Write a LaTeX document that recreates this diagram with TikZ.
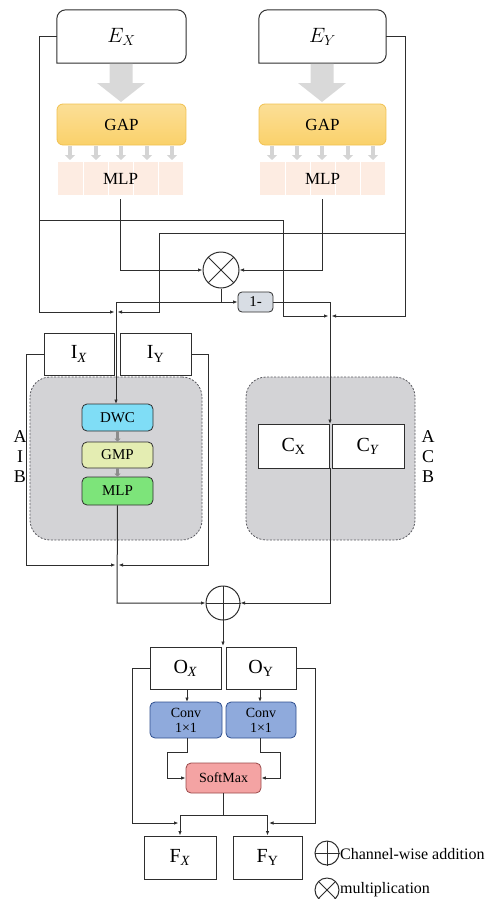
\documentclass[tikz,border=0pt]{standalone}
\usepackage{fontspec}
\setmainfont{Liberation Serif}
\usetikzlibrary{arrows.meta,calc}
\definecolor{ln}{HTML}{2E2E2E}
\definecolor{gapfill}{HTML}{FAD16A}
\definecolor{gapdraw}{HTML}{F0C050}
\definecolor{peach}{HTML}{FDECE2}
\definecolor{regfill}{HTML}{D3D3D6}
\definecolor{regdraw}{HTML}{5A5A60}
\definecolor{dwcfill}{HTML}{7FDDF6}
\definecolor{gmpfill}{HTML}{E4EDB2}
\definecolor{mlpfill}{HTML}{7DE47A}
\definecolor{convfill}{HTML}{8FAADC}
\definecolor{convdraw}{HTML}{2F4F8F}
\definecolor{smfill}{HTML}{F4A3A3}
\definecolor{smdraw}{HTML}{9A4A4A}
\definecolor{onefill}{HTML}{D8DDE4}
\begin{document}
\begin{tikzpicture}[x=1pt,y=-1pt,
  conn/.style={draw=ln,line width=1pt},
  arr/.style={conn,-{Latex[length=4.5pt,width=3.5pt]}},
  plainbox/.style={draw=ln,line width=1pt,fill=white,inner sep=0pt,font=\fontsize{20}{22}\selectfont},
  gapbox/.style={draw=gapdraw,line width=0.8pt,top color=gapfill!70!white,bottom color=gapfill,rounded corners=6pt,inner sep=0pt,minimum width=129pt,minimum height=41pt,font=\fontsize{17}{19}\selectfont},
  peachbox/.style={fill=peach,inner sep=0pt,minimum width=125pt,minimum height=33pt,font=\fontsize{17}{19}\selectfont},
  region/.style={draw=regdraw,dash pattern=on 2pt off 1.5pt,line width=0.8pt,fill=regfill,rounded corners=20pt,inner sep=0pt},
  smallbox/.style={draw=ln,line width=0.8pt,rounded corners=5pt,inner sep=0pt,minimum width=71pt,font=\fontsize{15}{17}\selectfont},
  opcirc/.style={circle,draw=ln,line width=1pt,fill=white,inner sep=0pt},
  bigarrow/.style={fill=black!15,draw=none},
  thinarrow/.style={draw=black!17,line width=4pt,-{Triangle[length=5pt,width=10pt]}},
  midarrow/.style={draw=black!45,line width=2.5pt,-{Triangle[length=3pt,width=6pt]}},
  sidelab/.style={inner sep=0pt,font=\fontsize{18}{20}\selectfont,align=center},
]
\useasboundingbox (0,0) rectangle (494,899);

% ---------- top encoders ----------
\node[inner sep=0pt,minimum width=129pt,minimum height=53pt,font=\fontsize{22}{24}\selectfont] (EX) at (121.5,36.5) {$E_X$};
\node[inner sep=0pt,minimum width=127pt,minimum height=53pt,font=\fontsize{22}{24}\selectfont] (EY) at (322.5,36.5) {$E_Y$};
\foreach \n in {EX,EY}{
  \draw[draw=ln,line width=1pt] (\n.south west) [rounded corners=9pt] -- (\n.north west) -- (\n.north east) -- (\n.south east) [sharp corners] -- cycle;
}

% big gray arrows
\foreach \c in {121,322}{
  \fill[bigarrow] (\c-11.5,64) -- (\c+11.5,64) -- (\c+11.5,83) -- (\c+24,83) -- (\c,102) -- (\c-24,83) -- (\c-11.5,83) -- cycle;
}

\node[gapbox] (GAPX) at (121.5,124.5) {GAP};
\node[gapbox,minimum width=127pt] (GAPY) at (322.5,124.5) {GAP};

\node[peachbox] (MLPX) at (120.5,178.5) {};
\node[peachbox] (MLPY) at (322.5,178.5) {};
\foreach \c in {120.5,322.5}{
  \foreach \d in {-37.5,-12.5,12.5,37.5}{
    \draw[white,line width=0.6pt] (\c+\d,162) -- (\c+\d,195);
  }
}
\node[inner sep=0pt,font=\fontsize{17}{19}\selectfont] at (MLPX) {MLP};
\node[inner sep=0pt,font=\fontsize{17}{19}\selectfont] at (MLPY) {MLP};

\foreach \xx in {70,96,121,147,172,272,297,322,348,373}{
  \draw[thinarrow] (\xx,146) -- (\xx,160);
}

% ---------- otimes and 1- ----------
\node[opcirc,minimum size=36pt] (MUL) at (221,270) {};
\draw[ln,line width=1pt] ($(MUL.center)+(-12.7,-12.7)$) -- ($(MUL.center)+(12.7,12.7)$);
\draw[ln,line width=1pt] ($(MUL.center)+(-12.7,12.7)$) -- ($(MUL.center)+(12.7,-12.7)$);

\node[draw=ln,line width=0.8pt,fill=onefill,rounded corners=4pt,minimum width=35pt,minimum height=20pt,inner sep=0pt,font=\fontsize{15}{17}\selectfont] (ONE) at (255.5,302) {1-};

% junction coordinates
\coordinate (JL) at (116,302);
\coordinate (JLm) at (116,312);
\coordinate (JR) at (330,302);
\coordinate (JRm) at (330,316);

% MLP -> otimes
\draw[arr] (MLPX.south) ++(0,4) -- (120.5,270) -- (MUL.west);
\draw[arr] (MLPY.south) ++(0,4) -- (322.5,270) -- (MUL.east);
% otimes -> branches
\draw[conn] (MUL.south) -- (221,302) -- (JL);
\draw[arr] (221,302) -- (ONE.west);
\draw[conn] (ONE.east) -- (JR);

% E_X feedback lines
\draw[arr] (EX.west) -- (39,36.5) -- (39,312) -- ($(JLm)+(-1.5,0)$);
\draw[arr] (39,220) -- (283,220) -- (283,316) -- ($(JRm)+(-1.5,0)$);
% E_Y feedback lines
\draw[arr] (EY.east) -- (405,36.5) -- (405,316) -- ($(JRm)+(1.5,0)$);
\draw[arr] (405,233) -- (159,233) -- (159,312) -- ($(JLm)+(1.5,0)$);

% ---------- AIB ----------
\node[region,minimum width=172pt,minimum height=163pt] (AIB) at (116,458.5) {};
\node[plainbox,minimum width=70pt,minimum height=42pt] (IX) at (79,354) {I\textsubscript{\textit{X}}};
\node[plainbox,minimum width=71pt,minimum height=42pt] (IY) at (155.5,354) {I\textsubscript{Y}};
\node[smallbox,fill=dwcfill,minimum height=27pt] (DWC) at (117.5,417.5) {DWC};
\node[smallbox,fill=gmpfill,minimum height=26pt] (GMP) at (117.5,455) {GMP};
\node[smallbox,fill=mlpfill,minimum height=28pt] (MLPI) at (117.5,491) {MLP};
\draw[midarrow] (DWC.south) -- (GMP.north);
\draw[midarrow] (GMP.south) -- (MLPI.north);
\draw[arr] (JL) -- (116,404);

\node[sidelab] (LAIB) at (20,457) {A\\I\\B};

% ---------- ACB ----------
\node[region,minimum width=169pt,minimum height=163pt] (ACB) at (330.5,458.5) {};
\node[plainbox,minimum width=71pt,minimum height=44pt] (CX) at (293.5,446) {C\textsubscript{X}};
\node[plainbox,minimum width=72pt,minimum height=44pt] (CY) at (368,446) {C\textsubscript{\textit{Y}}};
\draw[arr] (JR) -- (330,424);
\node[sidelab] (LACB) at (428,457) {A\\C\\B};

% ---------- oplus ----------
\node[opcirc,minimum size=34pt] (ADD) at (223,603) {};
\draw[ln,line width=1pt] (ADD.north) -- (ADD.south);
\draw[ln,line width=1pt] (ADD.west) -- (ADD.east);

\coordinate (JI) at (117,565);
\draw[arr] (IX.west) -- (26,354) -- (26,565) -- ($(JI)+(-1.5,0)$);
\draw[arr] (IY.east) -- (208,354) -- (208,565) -- ($(JI)+(1.5,0)$);
\draw[arr] (MLPI.south) -- (117,603) -- (ADD.west);
\draw[arr] (330,468) -- (330,603) -- (ADD.east);

% ---------- output part ----------
\node[plainbox,minimum width=71pt,minimum height=42pt] (OX) at (185.5,668) {O\textsubscript{\textit{X}}};
\node[plainbox,minimum width=70pt,minimum height=42pt] (OY) at (261,668) {O\textsubscript{Y}};
\draw[arr] (ADD.south) -- (223,646);

\node[smallbox,draw=convdraw,fill=convfill,minimum width=72pt,minimum height=36pt,align=center,font=\fontsize{14}{15}\selectfont] (CVX) at (186,720) {Conv\\1×1};
\node[smallbox,draw=convdraw,fill=convfill,minimum width=70pt,minimum height=36pt,align=center,font=\fontsize{14}{15}\selectfont] (CVY) at (261,720) {Conv\\1×1};
\draw[arr] (187,689) -- (187,702);
\draw[arr] (260,689) -- (260,702);

\node[smallbox,draw=smdraw,fill=smfill,minimum width=75pt,minimum height=30pt,font=\fontsize{14}{16}\selectfont] (SM) at (223.5,778) {SoftMax};
\draw[arr] (187,738) -- (187,752) -- (167,752) -- (167,778) -- (SM.west);
\draw[arr] (260,738) -- (260,752) -- (280,752) -- (280,778) -- (SM.east);

\node[plainbox,minimum width=72pt,minimum height=43pt] (FX) at (180,857.5) {F\textsubscript{\textit{X}}};
\node[plainbox,minimum width=69pt,minimum height=43pt] (FY) at (267.5,857.5) {F\textsubscript{Y}};
\draw[conn] (SM.south) -- (223.5,815);
\draw[conn] (180,815) -- (267.5,815);
\draw[arr] (180,815) -- (FX.north);
\draw[arr] (267.5,815) -- (FY.north);
\draw[arr] (OX.west) -- (132,668) -- (132,823) -- (178.5,823);
\draw[arr] (OY.east) -- (315,668) -- (315,823) -- (269,823);

% ---------- legend ----------
\node[opcirc,minimum size=24pt] (LADD) at (327,853) {};
\draw[ln,line width=1pt] (LADD.north) -- (LADD.south);
\draw[ln,line width=1pt] (LADD.west) -- (LADD.east);
\node[anchor=west,inner sep=0pt,font=\fontsize{16}{18}\selectfont] (TADD) at (340,854) {Channel-wise addition};
\node[opcirc,minimum size=24pt] (LMUL) at (327,890) {};
\draw[ln,line width=1pt] ($(LMUL.center)+(-8.5,-8.5)$) -- ($(LMUL.center)+(8.5,8.5)$);
\draw[ln,line width=1pt] ($(LMUL.center)+(-8.5,8.5)$) -- ($(LMUL.center)+(8.5,-8.5)$);
\node[anchor=west,inner sep=0pt,font=\fontsize{16}{18}\selectfont] (TMUL) at (340,890) {multiplication};
\end{tikzpicture}
\end{document}
